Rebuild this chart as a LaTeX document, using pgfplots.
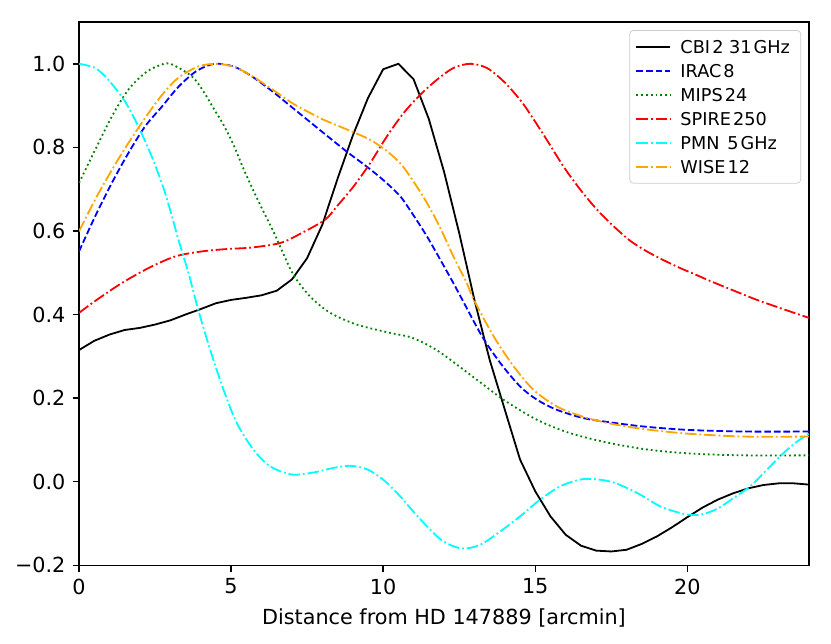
\documentclass[border=0pt]{standalone}
\usepackage{pgfplots}
\pgfplotsset{compat=1.18}
\usepackage{fontspec}
\setmainfont{DejaVu Sans}
\definecolor{mplgreen}{rgb}{0,0.5,0}
\definecolor{mplorange}{rgb}{1,0.647,0}
\definecolor{mplcyan}{rgb}{0,1,1}
\newcommand{\ts}{\hspace{0.12em}}
\begin{document}
\fontsize{11.5}{13.8}\selectfont
\begin{tikzpicture}
\begin{axis}[
 scale only axis, width=404.6pt, height=301.1pt,
 xmin=0, xmax=24, ymin=-0.2, ymax=1.1,
 xtick={0,5,10,15,20}, xticklabels={0,5,10,15,20},
 ytick={-0.2,0,0.2,0.4,0.6,0.8,1.0},
 yticklabels={−0.2,0.0,0.2,0.4,0.6,0.8,1.0},
 tick align=outside, xtick pos=bottom, ytick pos=left,
 major tick length=3.5pt,
 tick style={black, line width=0.8pt},
 axis line style={line width=0.8pt},
 ticklabel style={font=\fontsize{11.5}{13.8}\selectfont},
 xlabel={Distance from HD 147889 [arcmin]},
 label style={font=\fontsize{11.5}{13.8}\selectfont},
 legend cell align=left,
 legend style={at={(1,1)}, anchor=north east, xshift=-4.4pt, yshift=-4.45pt,
   draw=black!20, rounded corners=2pt, fill=white,
   font=\fontsize{9.8}{11.8}\selectfont,
   inner xsep=3.2pt, inner ysep=2.4pt, row sep=0pt, column sep=2.4pt,
   nodes={inner xsep=2.7pt, inner ysep=3.005pt, text height=7.3pt, text depth=0pt}},
 legend image code/.code={\draw[#1] (0pt,0pt) -- (18.8pt,0pt);},
]
\coordinate (ll) at (rel axis cs:0,0);
\coordinate (ur) at (rel axis cs:1,1);

\addplot[black, line width=1pt, sharp plot] coordinates {
(0,0.315) (0.5,0.337) (1.0,0.352) (1.5,0.363) (2.0,0.368) (2.5,0.376) (3.0,0.386) (3.5,0.400)
(4.0,0.413) (4.5,0.427) (5.0,0.435) (5.5,0.440) (6.0,0.446) (6.5,0.457) (7.0,0.484) (7.5,0.535)
(8.0,0.615) (8.5,0.725) (9.0,0.828) (9.5,0.918) (10.0,0.987) (10.5,1.000) (11.0,0.963) (11.5,0.868)
(12.0,0.742) (12.5,0.595) (13.0,0.435) (13.5,0.292) (14.0,0.172) (14.5,0.053) (15.0,-0.023) (15.5,-0.083)
(16.0,-0.127) (16.5,-0.153) (17.0,-0.165) (17.5,-0.167) (18.0,-0.163) (18.5,-0.149) (19.0,-0.131) (19.5,-0.109)
(20.0,-0.085) (20.5,-0.062) (21.0,-0.043) (21.5,-0.028) (22.0,-0.016) (22.5,-0.008) (23.0,-0.004) (23.5,-0.004) (24.0,-0.007)
};
\addlegendentry{CBI\ts2 31\ts GHz}

\addplot[blue, line width=1pt, dash pattern=on 3.7pt off 1.6pt, smooth] coordinates {
(0,0.551) (0.53,0.635) (1.08,0.715) (1.62,0.786) (2.17,0.85) (2.72,0.897) (3.27,0.945) (3.85,0.982)
(4.45,1.0) (5.1,0.993) (5.68,0.97) (6.34,0.935) (7.0,0.896) (7.98,0.838) (8.8,0.79) (9.46,0.754)
(10.0,0.722) (10.56,0.683) (11.0,0.637) (11.44,0.587) (11.88,0.531) (12.31,0.475) (12.59,0.437)
(13.25,0.348) (13.85,0.284) (14.5,0.228) (15.06,0.196) (15.71,0.172) (16.59,0.152) (17.47,0.142)
(18.56,0.132) (20,0.124) (21.85,0.12) (24,0.12)
};
\addlegendentry{IRAC\ts8}

\addplot[mplgreen, line width=1pt, dash pattern=on 1pt off 1.65pt, smooth] coordinates {
(0,0.715) (0.53,0.794) (1.08,0.874) (1.62,0.938) (2.17,0.978) (2.6,0.995) (3.0,1.0) (3.71,0.97)
(4.09,0.934) (4.42,0.894) (4.75,0.854) (5.08,0.806) (5.4,0.75) (5.73,0.697) (6.06,0.647) (6.39,0.599)
(6.61,0.563) (7.05,0.495) (7.6,0.443) (8.26,0.404) (9.13,0.376) (10.23,0.356) (10.89,0.346) (11.44,0.328)
(11.98,0.304) (13.08,0.244) (13.96,0.196) (15.06,0.148) (16.15,0.116) (17.47,0.092) (18.78,0.076)
(20.2,0.067) (21.85,0.063) (24,0.063)
};
\addlegendentry{MIPS\ts24}

\addplot[red, line width=1pt, dash pattern=on 6.4pt off 1.6pt on 1pt off 1.6pt, smooth] coordinates {
(0,0.404) (0.58,0.435) (1.4,0.475) (2.28,0.511) (3.16,0.539) (4.04,0.551) (4.91,0.557) (5.63,0.560)
(6.61,0.571) (7.32,0.595) (8.09,0.627) (8.48,0.659) (9.02,0.706) (9.57,0.762) (10.12,0.826) (10.67,0.882)
(11.22,0.926) (11.77,0.962) (12.31,0.99) (12.86,1.0) (13.41,0.99) (13.96,0.958) (14.5,0.914) (14.84,0.879)
(15.38,0.818) (15.93,0.754) (16.48,0.699) (17.03,0.651) (17.58,0.611) (18.13,0.576) (18.67,0.551) (19.22,0.530)
(19.77,0.511) (20.32,0.494) (20.76,0.480) (21.5,0.458) (22.29,0.435) (23.39,0.407) (24,0.392)
};
\addlegendentry{SPIRE\ts250}

\addplot[color=mplcyan, line width=1pt, dash pattern=on 6.4pt off 1.6pt on 1pt off 1.6pt, smooth] coordinates {
(0,1.0) (0.53,0.99) (0.96,0.962) (1.51,0.91) (1.95,0.85) (2.39,0.778) (2.83,0.691) (3.27,0.579)
(3.6,0.499) (3.92,0.411) (4.31,0.316) (4.75,0.22) (5.19,0.14) (5.73,0.077) (6.28,0.037) (7.0,0.017)
(7.71,0.022) (8.37,0.033) (8.91,0.038) (9.46,0.030) (10.0,0.005) (10.56,-0.035) (10.89,-0.063)
(11.44,-0.107) (11.98,-0.143) (12.59,-0.160) (13.19,-0.151) (13.85,-0.119) (14.5,-0.083) (15.16,-0.043)
(15.82,-0.011) (16.48,0.005) (16.97,0.006) (17.58,-0.002) (18.35,-0.027) (19.11,-0.059) (19.88,-0.077)
(20.43,-0.079) (20.98,-0.065) (21.52,-0.039) (22.07,-0.011) (22.62,0.029) (23.17,0.069) (23.61,0.096) (24,0.115)
};
\addlegendentry{PMN\ \ts5\ts GHz}

\addplot[mplorange, line width=1pt, dash pattern=on 6.4pt off 1.6pt on 1pt off 1.6pt, smooth] coordinates {
(0,0.599) (0.53,0.675) (1.08,0.746) (1.62,0.81) (2.17,0.87) (2.69,0.922) (3.24,0.965) (3.9,0.993)
(4.5,1.0) (5.13,0.992) (5.79,0.966) (6.45,0.934) (7.1,0.902) (8.04,0.866) (8.37,0.856) (9.41,0.824)
(10.0,0.798) (10.56,0.762) (11.0,0.718) (11.44,0.667) (11.88,0.607) (12.31,0.539) (12.75,0.475)
(12.97,0.437) (13.63,0.348) (14.29,0.276) (14.94,0.22) (15.71,0.18) (16.59,0.155) (17.47,0.139)
(18.56,0.126) (20,0.115) (21.85,0.108) (24,0.108)
};
\addlegendentry{WISE\ts12}
\end{axis}
\pgfresetboundingbox
\path (ll) ++(-43.8pt,-43.25pt) coordinate (bl);
\path (ur) ++(12.2pt,12.2pt) coordinate (tr);
\path (bl) rectangle (tr);
\end{tikzpicture}
\end{document}
